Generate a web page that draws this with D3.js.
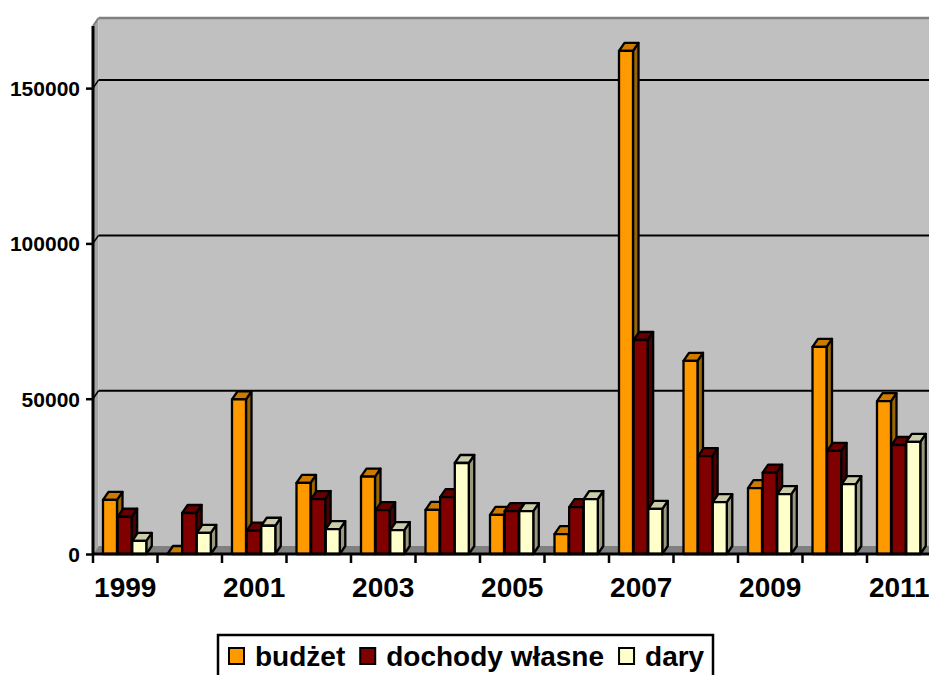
<!DOCTYPE html>
<html lang="pl">
<head>
<meta charset="utf-8">
<title>budżet / dochody własne / dary</title>
<script src="https://cdn.jsdelivr.net/npm/d3@7"></script>
<style>
  body { margin: 0; background: #fff; }
  text { font-family: "Liberation Sans", Arial, sans-serif; font-weight: bold; fill: #000; }
</style>
</head>
<body>
<script>
// data
var years = [1999, 2000, 2001, 2002, 2003, 2004, 2005, 2006, 2007, 2008, 2009, 2010, 2011];
var budzet = [17400, 0, 49800, 22900, 24900, 14200, 12600, 6400, 162000, 62200, 21200, 66700, 49200];
var dochody = [12000, 13200, 7500, 17700, 14100, 18300, 13800, 15100, 68900, 31500, 26200, 33200, 35100];
var dary = [4200, 6800, 9100, 8000, 7700, 29300, 13800, 17700, 14500, 16700, 19300, 22500, 36100];
var seriesNames = ["budżet", "dochody własne", "dary"];
var yTicks = [0, 50000, 100000, 150000];
var xLabels = [1999, 2001, 2003, 2005, 2007, 2009, 2011];

var colors = [
  {front: "#ff9900", top: "#cc7a00", side: "#996600"},
  {front: "#800000", top: "#660000", side: "#4d0000"},
  {front: "#ffffcc", top: "#ccccaa", side: "#999980"}
];

var W = 929, H = 675;
var x0 = 93, y0 = 554;
var dx = 5.5, dy = -8;

var svg = d3.select("body").append("svg")
  .attr("width", W).attr("height", H);

var y = d3.scaleLinear().domain([0, 170000]).range([y0, 26]);
var x = d3.scaleBand().domain(years).range([x0, x0 + 13 * 64.5]);
var inner = d3.scaleBand().domain(d3.range(3)).range([10, 10 + 3 * 14.5]).paddingInner(0.03);

var yTop = y(170000);
var xRight = W + 20;

// left wall
svg.append("polygon")
  .attr("points", [[x0, yTop], [x0 + dx, yTop + dy], [x0 + dx, y0 + dy], [x0, y0]].join(" "))
  .attr("fill", "#a6a6a6");
// back wall
svg.append("rect")
  .attr("x", x0 + dx).attr("y", yTop + dy)
  .attr("width", xRight - x0 - dx).attr("height", y0 - yTop)
  .attr("fill", "#c0c0c0");
svg.append("line")
  .attr("x1", x0).attr("y1", yTop).attr("x2", x0 + dx).attr("y2", yTop + dy)
  .attr("stroke", "#808080").attr("stroke-width", 2);
svg.append("line")
  .attr("x1", x0 + dx).attr("y1", yTop + dy).attr("x2", xRight).attr("y2", yTop + dy)
  .attr("stroke", "#808080").attr("stroke-width", 2.5);
// floor
svg.append("polygon")
  .attr("points", [[x0, y0], [x0 + dx, y0 + dy], [xRight, y0 + dy], [xRight, y0]].join(" "))
  .attr("fill", "#808080");

// gridlines on the wall
var grid = svg.append("g");
yTicks.slice(1).forEach(function(v) {
  grid.append("line")
    .attr("x1", x0 + dx).attr("x2", xRight)
    .attr("y1", y(v) + dy).attr("y2", y(v) + dy)
    .attr("stroke", "#000").attr("stroke-width", 2);
  grid.append("line")
    .attr("x1", x0).attr("x2", x0 + dx)
    .attr("y1", y(v)).attr("y2", y(v) + dy)
    .attr("stroke", "#000").attr("stroke-width", 1.5);
});

// bars
var allSeries = [budzet, dochody, dary];
var bars = svg.append("g");
years.forEach(function(yr, j) {
  allSeries.forEach(function(s, i) {
    var bx = x(yr) + inner(i), bw = 14;
    var by = y(s[j]);
    var c = colors[i];
    var g = bars.append("g")
      .attr("stroke", "#000").attr("stroke-width", 2.3).attr("stroke-linejoin", "round");
    g.append("polygon")
      .attr("points", [[bx + bw, by], [bx + bw + dx, by + dy], [bx + bw + dx, y0 + dy], [bx + bw, y0]].join(" "))
      .attr("fill", c.side);
    g.append("polygon")
      .attr("points", [[bx, by], [bx + dx, by + dy], [bx + bw + dx, by + dy], [bx + bw, by]].join(" "))
      .attr("fill", c.top);
    g.append("rect")
      .attr("x", bx).attr("y", by).attr("width", bw).attr("height", y0 - by)
      .attr("fill", c.front);
  });
});

// y axis
var yAxis = svg.append("g").attr("transform", "translate(" + x0 + ",0)")
  .call(d3.axisLeft(y).tickValues(yTicks).tickSize(7).tickPadding(6).tickFormat(d3.format("d")));
yAxis.select(".domain").attr("stroke", "#000").attr("stroke-width", 3)
  .attr("d", "M0," + yTop + "V" + y0);
yAxis.selectAll(".tick line").attr("stroke", "#000").attr("stroke-width", 2.5);
yAxis.selectAll(".tick text")
  .attr("font-size", 21).attr("font-family", null).attr("font-weight", "bold")
  .attr("dy", "0.36em");

// x axis
var xAxis = svg.append("g").attr("transform", "translate(0," + y0 + ")");
xAxis.append("line")
  .attr("x1", x0).attr("x2", xRight).attr("y1", 0).attr("y2", 0)
  .attr("stroke", "#000").attr("stroke-width", 3);
years.forEach(function(yr) {
  xAxis.append("line")
    .attr("x1", x(yr)).attr("x2", x(yr)).attr("y1", 0).attr("y2", 9)
    .attr("stroke", "#000").attr("stroke-width", 2.5);
});
xAxis.selectAll("text.xl").data(xLabels).enter().append("text")
  .attr("class", "xl")
  .attr("x", function(d) { return x(d) + x.bandwidth() / 2; })
  .attr("y", 43)
  .attr("text-anchor", "middle")
  .attr("font-size", 28)
  .text(function(d) { return d; });

// legend
var legend = svg.append("g");
legend.append("rect")
  .attr("x", 218).attr("y", 635).attr("width", 495).attr("height", 50)
  .attr("fill", "#fff").attr("stroke", "#000").attr("stroke-width", 2.5);
var lx = 229;
seriesNames.forEach(function(name, i) {
  legend.append("rect")
    .attr("x", lx).attr("y", 648).attr("width", 15).attr("height", 16)
    .attr("fill", colors[i].front).attr("stroke", "#000").attr("stroke-width", 2);
  var t = legend.append("text")
    .attr("x", lx + 26).attr("y", 666)
    .attr("font-size", 28)
    .text(name);
  lx += 26 + t.node().getComputedTextLength() + 15;
});
</script>
</body>
</html>
